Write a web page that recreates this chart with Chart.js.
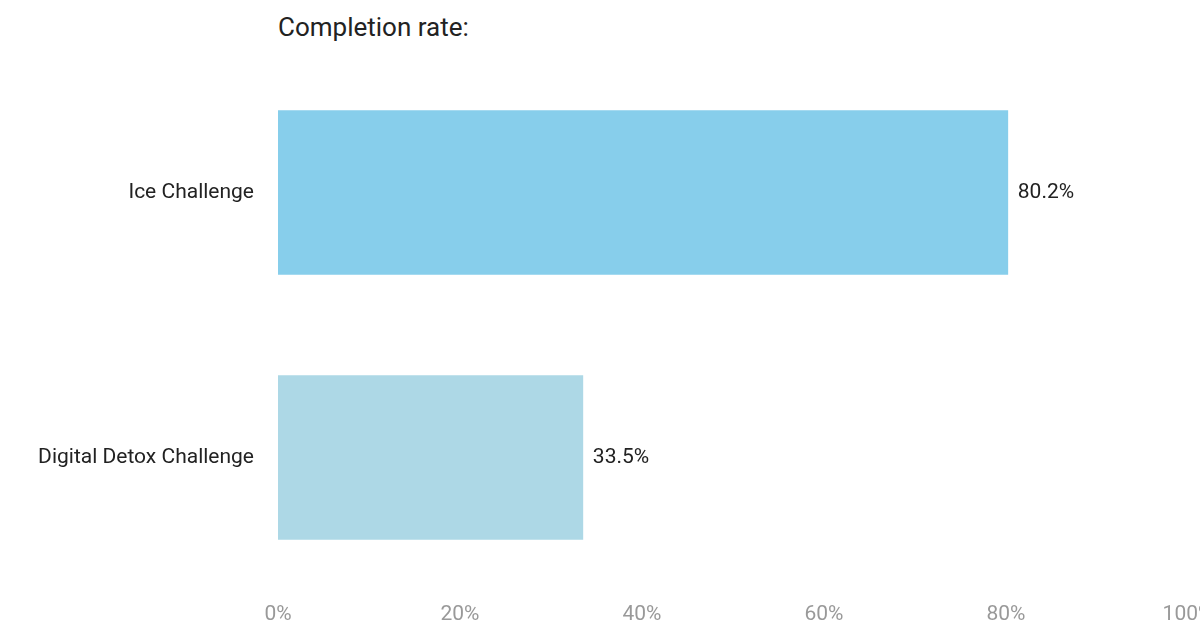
<!DOCTYPE html>
<html><head><meta charset="utf-8">
<script src="https://cdn.jsdelivr.net/npm/chart.js@4"></script>
<style>
html,body{margin:0;padding:0;background:#fff;overflow:hidden;width:1200px;height:629px}
#t{position:absolute;left:278px;top:12px;font:26px Roboto,"Open Sans",sans-serif;color:#222}
#w{position:absolute;left:-40px;top:0;width:1280px;height:629px}
</style></head><body>
<div id="t">Completion rate:</div>
<div id="w"><canvas id="c"></canvas></div>
<script>
const categories = ["Ice Challenge", "Digital Detox Challenge"];
const completionRate = [80.2, 33.5];
const barColors = ["#87CEEB", "#ADD8E6"];
const xTicks = [0, 20, 40, 60, 80, 100];

const valueLabels = {
  id: 'valueLabels',
  afterDatasetsDraw(chart) {
    const ctx = chart.ctx;
    ctx.save();
    ctx.font = '21px Roboto, "Open Sans", sans-serif';
    ctx.fillStyle = '#222';
    ctx.textBaseline = 'middle';
    chart.getDatasetMeta(0).data.forEach((b, i) => {
      ctx.fillText(completionRate[i].toFixed(1) + '%', b.x + 10, b.y);
    });
    ctx.restore();
  }
};

new Chart(document.getElementById('c'), {
  type: 'bar',
  data: { labels: categories, datasets: [{ data: completionRate, backgroundColor: barColors, barThickness: 164 }] },
  options: {
    indexAxis: 'y', responsive: true, maintainAspectRatio: false, animation: false,
    layout: { padding: { top: 60, right: 52, left: 0, bottom: 0 } },
    plugins: { legend: { display: false }, tooltip: { enabled: false } },
    scales: {
      x: { min: 0, max: 100, grid: { display: false }, border: { display: false },
        afterBuildTicks(s) { s.ticks = xTicks.map(v => ({ value: v })); },
        afterFit(s) { s.height = 39; },
        ticks: { padding: 4, color: '#999', font: { size: 21, family: 'Roboto, "Open Sans", sans-serif' }, callback: v => v + '%' } },
      y: { grid: { display: false }, border: { display: false },
        afterFit(s) { s.width = 318; },
        ticks: { padding: 16, color: '#222', font: { size: 21, family: 'Roboto, "Open Sans", sans-serif' } } }
    }
  },
  plugins: [valueLabels]
});
</script>
</body></html>
